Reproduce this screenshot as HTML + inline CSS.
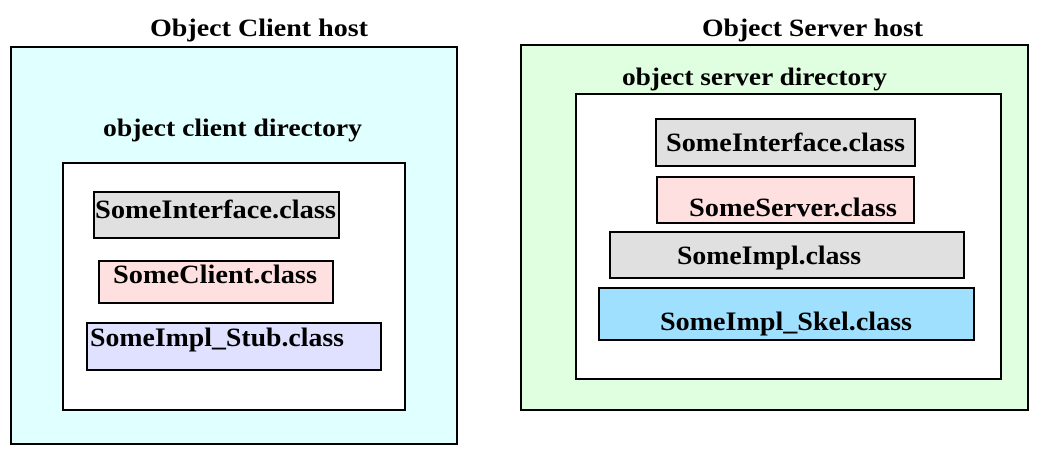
<!DOCTYPE html>
<html><head><meta charset="utf-8"><style>
html,body{margin:0;padding:0;background:#fff;width:1044px;height:455px;overflow:hidden}
text{font-family:"Liberation Serif","Times New Roman",serif;font-weight:bold;fill:#000}
</style></head><body>
<svg width="1044" height="455" viewBox="0 0 1044 455" xmlns="http://www.w3.org/2000/svg">
<g stroke="#000" stroke-width="2">
<rect x="11" y="47" width="446" height="397" fill="#e0ffff"/>
<rect x="63" y="163" width="342" height="247" fill="#fff"/>
<rect x="94" y="192" width="245" height="46" fill="#e0e0e0"/>
<rect x="99" y="261" width="234" height="42" fill="#ffe0e0"/>
<rect x="87" y="323" width="294" height="47" fill="#e0e0ff"/>
<rect x="521" y="45" width="507" height="365" fill="#e0ffe0"/>
<rect x="576" y="94" width="425" height="285" fill="#fff"/>
<rect x="656" y="119" width="259" height="47" fill="#e0e0e0"/>
<rect x="657" y="177" width="257" height="46" fill="#ffe0e0"/>
<rect x="610" y="232" width="354" height="46" fill="#e0e0e0"/>
<rect x="599" y="288" width="375" height="52" fill="#a0e0ff"/>
</g>
<text x="150" y="36" font-size="25" textLength="218" lengthAdjust="spacingAndGlyphs">Object Client host</text>
<text x="103" y="136" font-size="25" textLength="259" lengthAdjust="spacingAndGlyphs">object client directory</text>
<text x="95" y="218" font-size="26" textLength="241" lengthAdjust="spacingAndGlyphs">SomeInterface.class</text>
<text x="113" y="283" font-size="26" textLength="204" lengthAdjust="spacingAndGlyphs">SomeClient.class</text>
<text x="90" y="346" font-size="26" textLength="254" lengthAdjust="spacingAndGlyphs">SomeImpl_Stub.class</text>
<text x="702" y="36" font-size="25" textLength="221" lengthAdjust="spacingAndGlyphs">Object Server host</text>
<text x="622" y="85" font-size="25" textLength="265" lengthAdjust="spacingAndGlyphs">object server directory</text>
<text x="666" y="151" font-size="26" textLength="239" lengthAdjust="spacingAndGlyphs">SomeInterface.class</text>
<text x="689" y="216" font-size="26" textLength="208" lengthAdjust="spacingAndGlyphs">SomeServer.class</text>
<text x="677" y="264" font-size="26" textLength="184" lengthAdjust="spacingAndGlyphs">SomeImpl.class</text>
<text x="660" y="330" font-size="26" textLength="252" lengthAdjust="spacingAndGlyphs">SomeImpl_Skel.class</text>
</svg>
</body></html>
